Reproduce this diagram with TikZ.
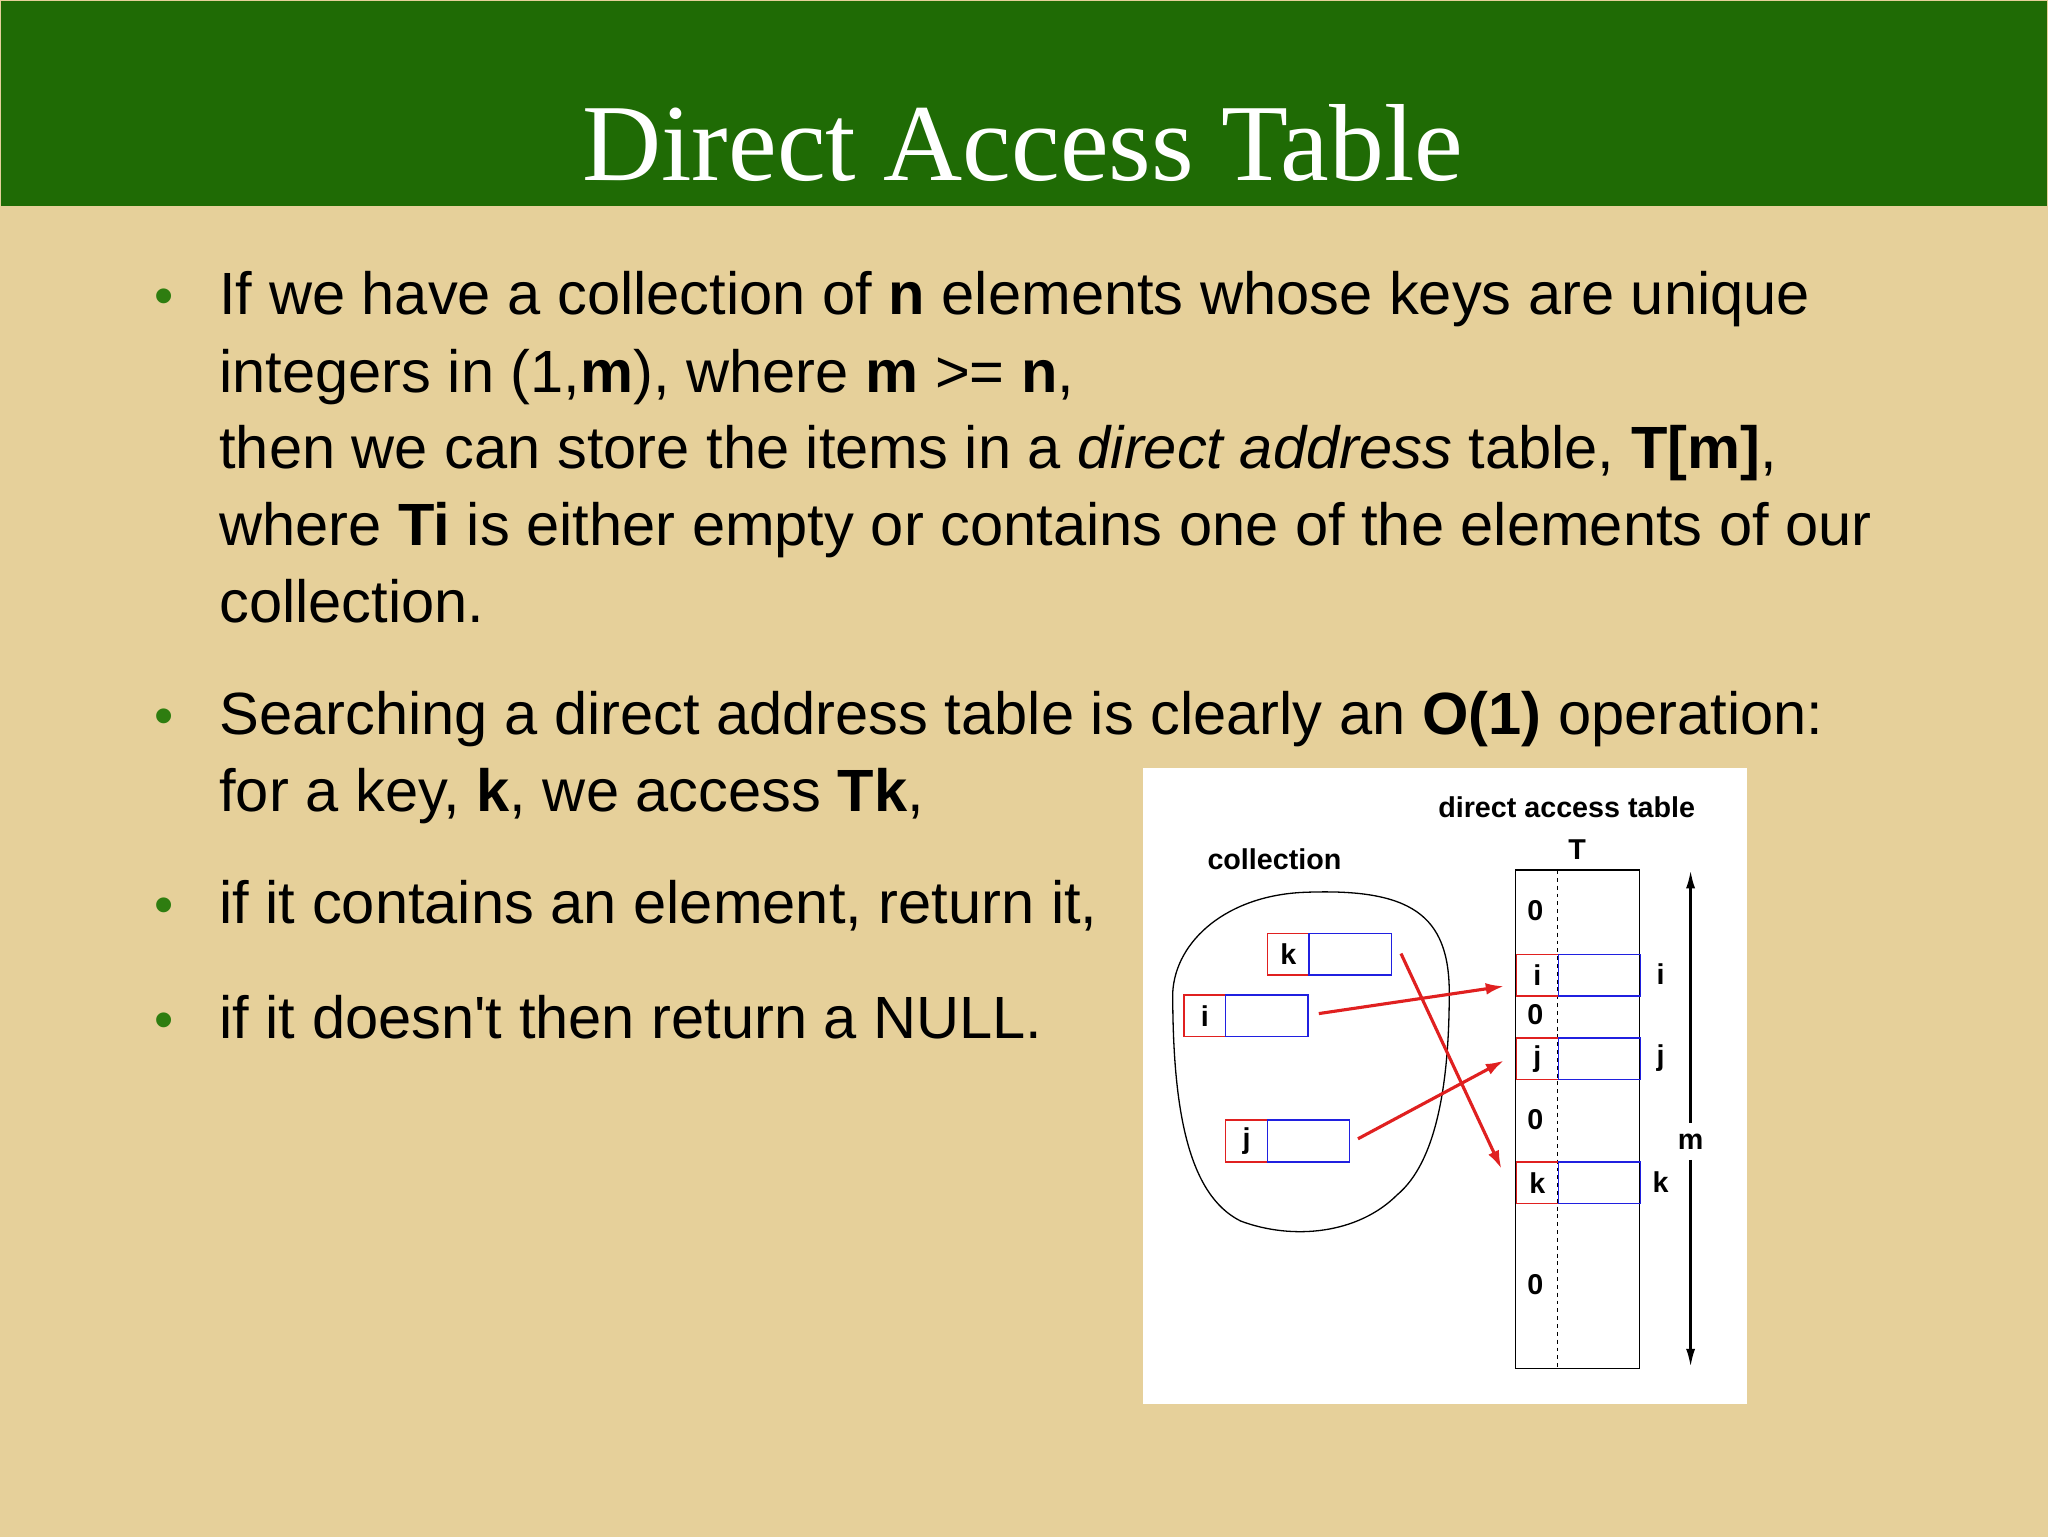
\documentclass[tikz,border=0pt]{standalone}
\usepackage{fontspec}
\setmainfont{Liberation Sans}
\newfontfamily\titlefont{Liberation Serif}
\usetikzlibrary{arrows.meta}
\definecolor{bg}{HTML}{E6D09A}
\definecolor{band}{HTML}{1F6B05}
\definecolor{bul}{HTML}{2E7D10}
\definecolor{cred}{HTML}{E02020}
\definecolor{cblue}{HTML}{2020E0}
\tikzset{
 line/.style={anchor=base west,inner sep=0pt,font=\fontsize{45.7}{50}\selectfont},
 bullet/.style={anchor=base,inner sep=0pt,text=bul,font=\fontsize{42}{50}\selectfont},
 dlab/.style={inner sep=0pt,font=\fontsize{22}{26}\selectfont\bfseries},
 rc/.style={draw=cred,line width=1.2pt,minimum width=32pt,minimum height=32pt,inner sep=0pt,anchor=north west,font=\fontsize{22}{26}\selectfont\bfseries},
 bc/.style={draw=cblue,line width=1.2pt,minimum width=63pt,minimum height=32pt,inner sep=0pt,anchor=north west},
 rarrow/.style={draw=cred,line width=2.4pt,-{Latex[length=14pt,width=9pt]}}
}
\begin{document}
\begin{tikzpicture}[x=1pt,y=-1pt]
\fill[bg] (-1,-1) rectangle (1569,1177);
\useasboundingbox (0,0) rectangle (1568,1176);
\fill[band] (0,0) rectangle (1568,157);
\node[anchor=base,inner sep=0pt,text=white,font=\titlefont\fontsize{84}{96}\selectfont] (title) at (783,137) {Direct Access Table};
\node[bullet] (b1) at (125,240) {•};
\node[line] (l1) at (167,240) {If we have a collection of \textbf{n} elements whose keys are unique};
\node[line] (l2) at (167,300) {integers in (1,\textbf{m}), where \textbf{m} >= \textbf{n},};
\node[line] (l3) at (167,358) {then we can store the items in a \textit{direct address} table, \textbf{T[m]},};
\node[line] (l4) at (167,417) {where \textbf{Ti} is either empty or contains one of the elements of our};
\node[line] (l5) at (167,476) {collection.};
\node[bullet] (b2) at (125,562) {•};
\node[line] (l6) at (167,562) {Searching a direct address table is clearly an \textbf{O(1)} operation:};
\node[line] (l7) at (167,621) {for a key, \textbf{k}, we access \textbf{Tk},};
\node[bullet] (b3) at (125,707) {•};
\node[line] (l8) at (167,707) {if it contains an element, return it,};
\node[bullet] (b4) at (125,795) {•};
\node[line] (l9) at (167,795) {if it doesn\textquotesingle t then return a NULL.};
% diagram
\fill[white] (875,588) rectangle (1338,1075);
\node[dlab] (dat) at (1200,618) {direct access table};
\node[dlab] (tT) at (1208,650) {T};
\node[dlab] (coll) at (976,658) {collection};
\draw[line width=1pt] (1161,666) rectangle (1256,1048);
\draw[dashed,line width=0.8pt] (1193,666) -- (1193,1048);
\foreach \y/\l in {730/i,794/j,889/k}{
 \node[rc] (r\l) at (1161,\y) {\l};
 \node[bc] (c\l) at (1193,\y) {};
}
\node[dlab] (z1) at (1176,697) {0};
\node[dlab] (z2) at (1176,777) {0};
\node[dlab] (z3) at (1176,857) {0};
\node[dlab] (z4) at (1176,984) {0};
\node[dlab] (li) at (1272,746) {i};
\node[dlab] (lj) at (1272,810) {j};
\node[dlab] (lk) at (1272,905) {k};
\node[dlab] (lm) at (1295,874) {m};
\coordinate (mt) at (1295,666);
\coordinate (mb) at (1295,1047);
\draw[line width=2pt,-{Latex[length=14pt,width=7pt]}] (lm.north) ++(0,-8) -- (mt);
\draw[line width=2pt,-{Latex[length=14pt,width=7pt]}] (lm.south) ++(0,8) -- (mb);
\draw[line width=1pt] (1000,683) .. controls (1080,680) and (1110,700) .. (1110,760)
 .. controls (1110,830) and (1100,890) .. (1070,915)
 .. controls (1040,945) and (990,950) .. (950,935)
 .. controls (910,915) and (898,850) .. (898,760)
 .. controls (900,720) and (940,685) .. (1000,683) -- cycle;
\node[rc] (ek) at (970,714) {k};
\node[bc] (ekb) at (1002,714) {};
\node[rc] (ei) at (906,761) {i};
\node[bc] (eib) at (938,761) {};
\node[rc] (ej) at (938,857) {j};
\node[bc] (ejb) at (970,857) {};
\coordinate (ai) at (1010,776);
\coordinate (aj) at (1040,872);
\coordinate (ak) at (1073,730);
\draw[rarrow] (ai) -- (1152,755);
\draw[rarrow] (aj) -- (1152,812);
\draw[rarrow] (ak) -- (1150,895);
\end{tikzpicture}
\end{document}
